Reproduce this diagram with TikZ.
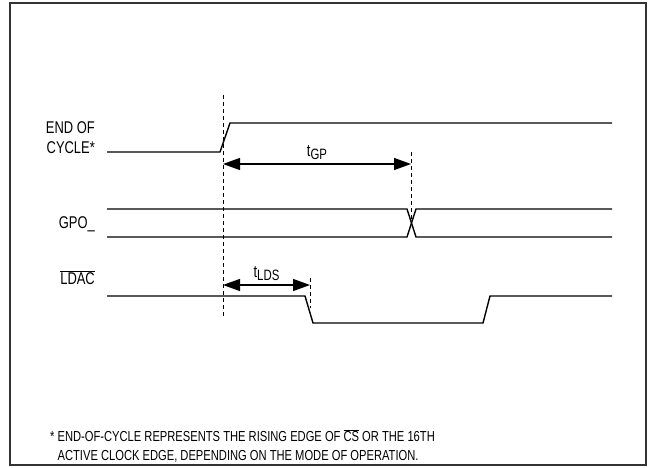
\documentclass[tikz,border=0pt]{standalone}
\usepackage{fontspec}
\setmainfont[FakeStretch=0.76]{Liberation Sans}
\newfontfamily\notefont[FakeStretch=0.77]{Liberation Sans}
\usetikzlibrary{arrows.meta, positioning}

\begin{document}
\begin{tikzpicture}[x=1pt, y=-1pt, >={Triangle[length=17pt,width=12pt]}]
  % Define styles
  \tikzstyle{signal} = [line width=1.4pt, line join=miter]
  \tikzstyle{marker} = [dash pattern=on 4pt off 3pt, line width=0.8pt]
  \tikzstyle{timing} = [line width=1.4pt, <->]
  \tikzstyle{sig label} = [anchor=east, align=right, inner sep=0pt, font=\fontsize{17}{20}\selectfont]
  \tikzstyle{time label} = [above, inner sep=4pt, font=\fontsize{17}{20}\selectfont]
  \tikzstyle{note} = [anchor=west, align=left, inner sep=0pt, font=\notefont\fontsize{14.5}{19}\selectfont]
  \newcommand{\tsub}[1]{t\raisebox{-3pt}{\fontsize{15}{15}\selectfont #1}}

  \useasboundingbox (0,0) rectangle (648,468);
  \draw[line width=1.8pt, draw=black!80] (10,3) rectangle (646,465);

  % Place nodes
  \node[sig label] (eocLabel) at (95,138) {END OF\\CYCLE*};
  \node[sig label] (gpoLabel) at (95,224) {GPO\_};
  \node[sig label] (ldacLabel) at (95,278) {$\overline{\hbox{LDAC}}$};
  \node[note] (footnote) at (50,446) {* END-OF-CYCLE REPRESENTS THE RISING EDGE OF $\overline{\hbox{CS}}$ OR THE 16TH\\\hphantom{* }ACTIVE CLOCK EDGE, DEPENDING ON THE MODE OF OPERATION.};

  \coordinate (eocTop) at (223,95);
  \coordinate (eocBottom) at (223,318);
  \coordinate (gpoTop) at (411,152);
  \coordinate (gpoCross) at (411,222);
  \coordinate (ldsTop) at (310,278);
  \coordinate (ldsBottom) at (310,308);
  \coordinate (tgpStart) at (223,164);
  \coordinate (tgpEnd) at (411,164);
  \coordinate (tldsStart) at (223,285);
  \coordinate (tldsEnd) at (310,285);

  % Draw waveforms
  \draw[signal] (107,152) -- (220,152) -- (230,123) -- (612,123);
  \draw[signal] (107,209) -- (407,209) -- (416,237) -- (612,237);
  \draw[signal] (107,237) -- (407,237) -- (416,209) -- (612,209);
  \draw[signal] (107,296) -- (305,296) -- (313,323) -- (483,323) -- (490,296) -- (612,296);

  % Draw edges
  \draw[marker] (eocTop) -- (eocBottom);
  \draw[marker] (gpoTop) -- (gpoCross);
  \draw[marker] (ldsTop) -- (ldsBottom);
  \draw[timing] (tgpStart) -- node[time label] {\tsub{GP}} (tgpEnd);
  \draw[timing] (tldsStart) -- node[time label] {\tsub{LDS}} (tldsEnd);
\end{tikzpicture}
\end{document}
